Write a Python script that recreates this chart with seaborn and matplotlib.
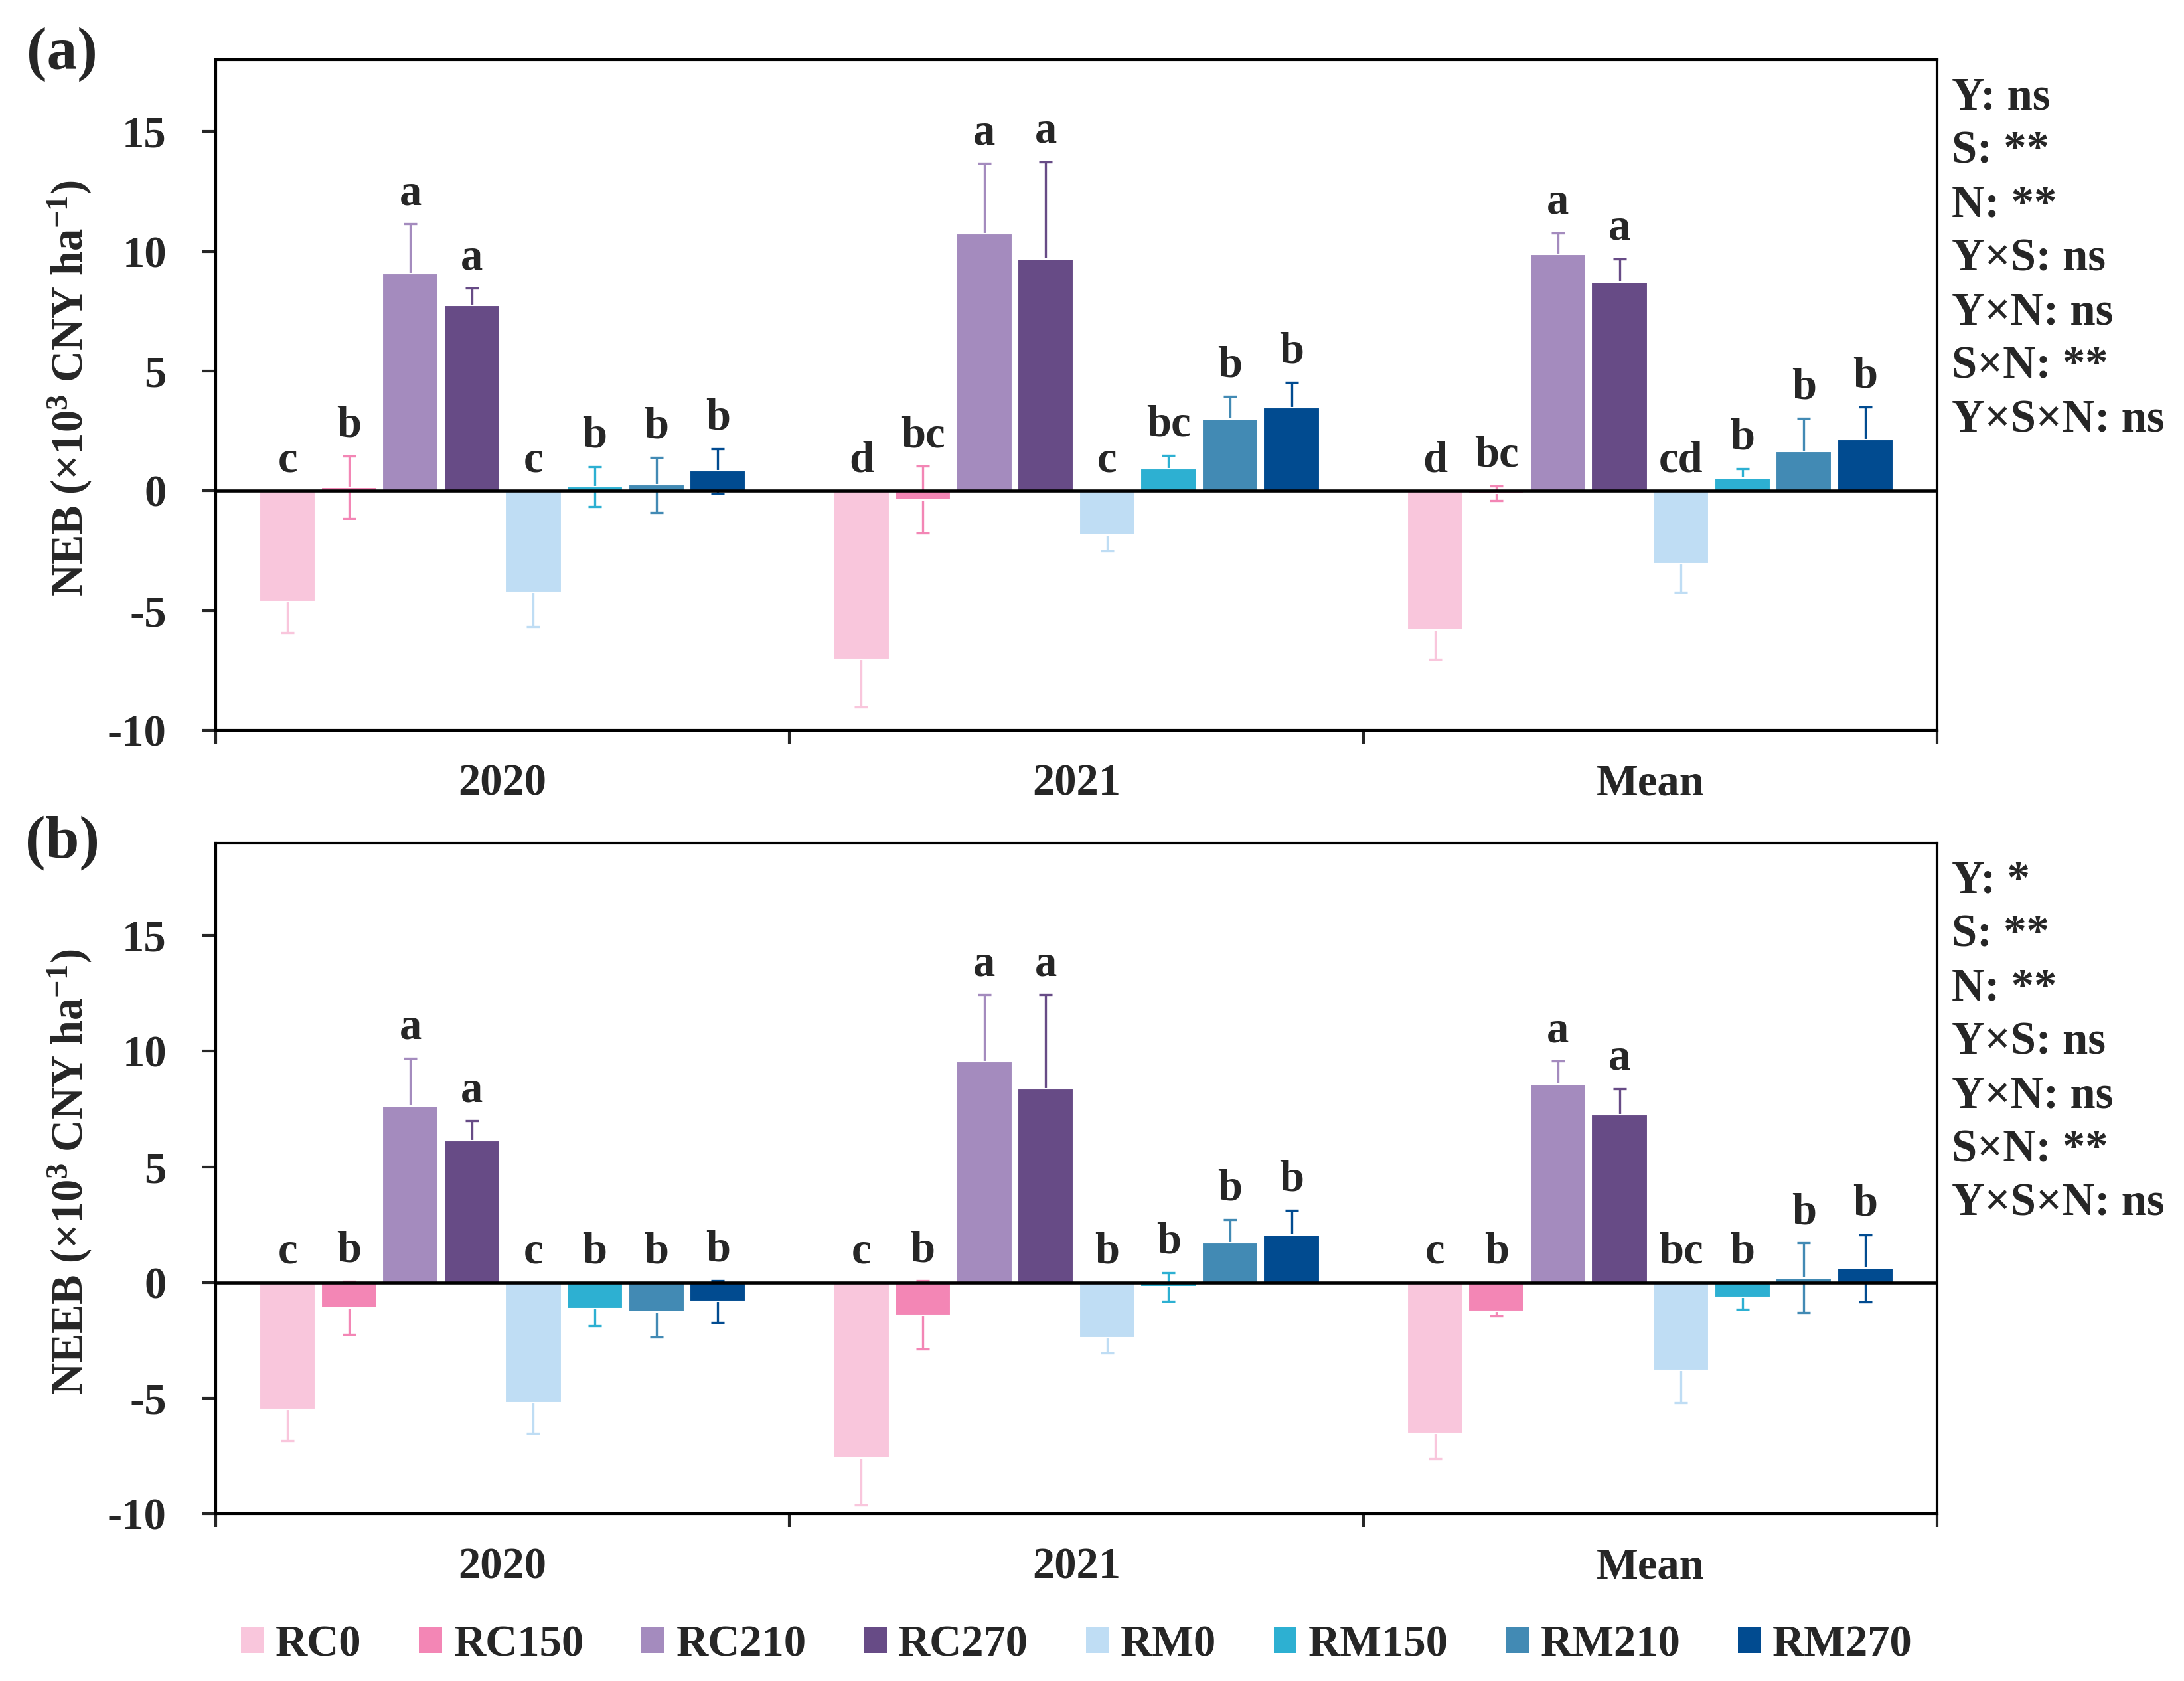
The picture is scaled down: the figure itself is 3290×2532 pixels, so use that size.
import numpy as np
import pandas as pd
import matplotlib
matplotlib.use("Agg")
import matplotlib.pyplot as plt
import seaborn as sns
from matplotlib.patches import Patch
from matplotlib.container import BarContainer

# ---------------- data ----------------
groups = ["2020", "2021", "Mean"]
treatments = ["RC0", "RC150", "RC210", "RC270", "RM0", "RM150", "RM210", "RM270"]
colors = ["#F9C6DC", "#F386B5", "#A48BBE", "#674B86",
          "#BFDDF4", "#2DB0D2", "#428AB4", "#014B90"]

# Panel (a) NEB
neb_2020 = [-4.62, 0.15, 9.07, 7.73, -4.22, 0.18, 0.25, 0.83]
neb_2020_err = [1.31, 1.30, 2.07, 0.72, 1.46, 0.83, 1.15, 0.93]
neb_2021 = [-7.03, -0.37, 10.74, 9.68, -1.84, 0.91, 3.01, 3.47]
neb_2021_err = [2.00, 1.39, 2.93, 4.05, 0.68, 0.57, 0.93, 1.06]
neb_mean = [-5.81, -0.10, 9.89, 8.71, -3.05, 0.53, 1.65, 2.14]
neb_mean_err = [1.23, 0.30, 0.87, 0.97, 1.19, 0.40, 1.38, 1.36]
neb_letters_2020 = ["c", "b", "a", "a", "c", "b", "b", "b"]
neb_letters_2021 = ["d", "bc", "a", "a", "c", "bc", "b", "b"]
neb_letters_mean = ["d", "bc", "a", "a", "cd", "b", "b", "b"]
neb_stats = ["Y: ns", "S: **", "N: **", "Y×S: ns", "Y×N: ns", "S×N: **", "Y×S×N: ns"]

# Panel (b) NEEB
neeb_2020 = [-5.48, -1.10, 7.63, 6.13, -5.21, -1.14, -1.26, -0.82]
neeb_2020_err = [1.37, 1.16, 2.07, 0.86, 1.33, 0.72, 1.10, 0.90]
neeb_2021 = [-7.59, -1.41, 9.55, 8.39, -2.40, -0.19, 1.71, 2.07]
neeb_2021_err = [2.04, 1.48, 2.89, 4.05, 0.65, 0.61, 1.01, 1.05]
neeb_mean = [-6.53, -1.24, 8.58, 7.27, -3.81, -0.65, 0.20, 0.61]
neeb_mean_err = [1.10, 0.21, 0.99, 1.12, 1.39, 0.51, 1.51, 1.45]
neeb_letters_2020 = ["c", "b", "a", "a", "c", "b", "b", "b"]
neeb_letters_2021 = ["c", "b", "a", "a", "b", "b", "b", "b"]
neeb_letters_mean = ["c", "b", "a", "a", "bc", "b", "b", "b"]
neeb_stats = ["Y: *", "S: **", "N: **", "Y×S: ns", "Y×N: ns", "S×N: **", "Y×S×N: ns"]

# ---------------- style ----------------
sns.set_style("ticks")
plt.rcParams["font.family"] = ["Liberation Serif", "DejaVu Serif"]
plt.rcParams["font.weight"] = "bold"
plt.rcParams["axes.labelweight"] = "bold"
plt.rcParams["axes.unicode_minus"] = False
plt.rcParams["mathtext.fontset"] = "custom"
plt.rcParams["mathtext.rm"] = "Liberation Serif:bold"
plt.rcParams["mathtext.bf"] = "Liberation Serif:bold"
plt.rcParams["mathtext.it"] = "Liberation Serif:italic:bold"

W, H = 3290, 2532
fig = plt.figure(figsize=(W / 300, H / 300), dpi=300)

L, R = 325, 2918
ax_a = fig.add_axes([L / W, 1 - 1100 / H, (R - L) / W, 1010 / H])
ax_b = fig.add_axes([L / W, 1 - 2280 / H, (R - L) / W, 1010 / H])

palette = dict(zip(treatments, colors))
FS = 16


def draw(ax, vals, errs, letters, ylim, ylabel, stats):
    rows = []
    for g, v in zip(groups, vals):
        for t, val in zip(treatments, v):
            rows.append({"group": g, "treatment": t, "value": val})
    df = pd.DataFrame(rows)
    sns.barplot(data=df, x="group", y="value", hue="treatment",
                order=groups, hue_order=treatments, palette=palette,
                saturation=1, width=0.857, gap=0.09, errorbar=None, legend=False,
                edgecolor="white", linewidth=0.5, ax=ax, zorder=2)
    bar_conts = [c for c in list(ax.containers) if isinstance(c, BarContainer)]
    for ti, cont in enumerate(bar_conts):
        for gi, bar in enumerate(cont.patches):
            x = bar.get_x() + bar.get_width() / 2
            v = vals[gi][ti]
            e = errs[gi][ti]
            ax.errorbar(x, v, yerr=e, fmt="none", ecolor=colors[ti],
                        elinewidth=0.8, capsize=2.4, capthick=0.8, zorder=1.5)
            top = max(0.0, v + e)
            ax.annotate(letters[gi][ti], (x, top), xytext=(0, 7.0),
                        textcoords="offset points", ha="center", va="baseline",
                        fontsize=FS, fontweight="bold")
    ax.axhline(0, color="black", lw=1.1, zorder=3)
    ax.set_ylim(*ylim)
    ax.set_xlim(-0.5, 2.5)
    ax.set_yticks([-10, -5, 0, 5, 10, 15])
    ax.set_yticklabels(["-10", "-5", "0", "5", "10", "15"])
    ax.set_xticks([0, 1, 2])
    ax.set_xticklabels(groups)
    ax.set_xticks([-0.5, 0.5, 1.5, 2.5], minor=True)
    ax.tick_params(axis="x", which="major", length=0, pad=12, labelsize=FS)
    ax.tick_params(axis="x", which="minor", length=4.8, width=1.0, direction="out")
    ax.tick_params(axis="y", which="major", length=4.8, width=1.0, direction="out",
                   pad=13, labelsize=FS)
    for s in ax.spines.values():
        s.set_linewidth(1.0)
        s.set_color("black")
    ax.set_xlabel("")
    ax.set_ylabel(ylabel, fontsize=FS, fontweight="bold")
    ax.yaxis.set_label_coords(-0.071, 0.51)
    for i, s in enumerate(stats):
        ax.text(1.0085, 0.9426 - i * 0.0802, s, transform=ax.transAxes,
                ha="left", va="center", fontsize=16.5, fontweight="bold")


draw(ax_a,
     [neb_2020, neb_2021, neb_mean],
     [neb_2020_err, neb_2021_err, neb_mean_err],
     [neb_letters_2020, neb_letters_2021, neb_letters_mean],
     (-10, 18), "NEB (×10$^{3}$ CNY ha$^{-1}$)", neb_stats)
draw(ax_b,
     [neeb_2020, neeb_2021, neeb_mean],
     [neeb_2020_err, neeb_2021_err, neeb_mean_err],
     [neeb_letters_2020, neeb_letters_2021, neeb_letters_mean],
     (-10, 19), "NEEB (×10$^{3}$ CNY ha$^{-1}$)", neeb_stats)

fig.text(40 / W, 1 - 82 / H, "(a)", ha="left", va="center", fontsize=22, fontweight="bold")
fig.text(38 / W, 1 - 1270 / H, "(b)", ha="left", va="center", fontsize=22, fontweight="bold")

handles = [Patch(facecolor=c, edgecolor="none") for c in colors]
fig.legend(handles, treatments, ncol=8, loc="center",
           bbox_to_anchor=(0.493, 1 - 2478 / H), frameon=False,
           fontsize=16, handlelength=0.52, handleheight=0.52,
           handletextpad=0.26, columnspacing=1.3)

fig.savefig("out.png", dpi=300)
